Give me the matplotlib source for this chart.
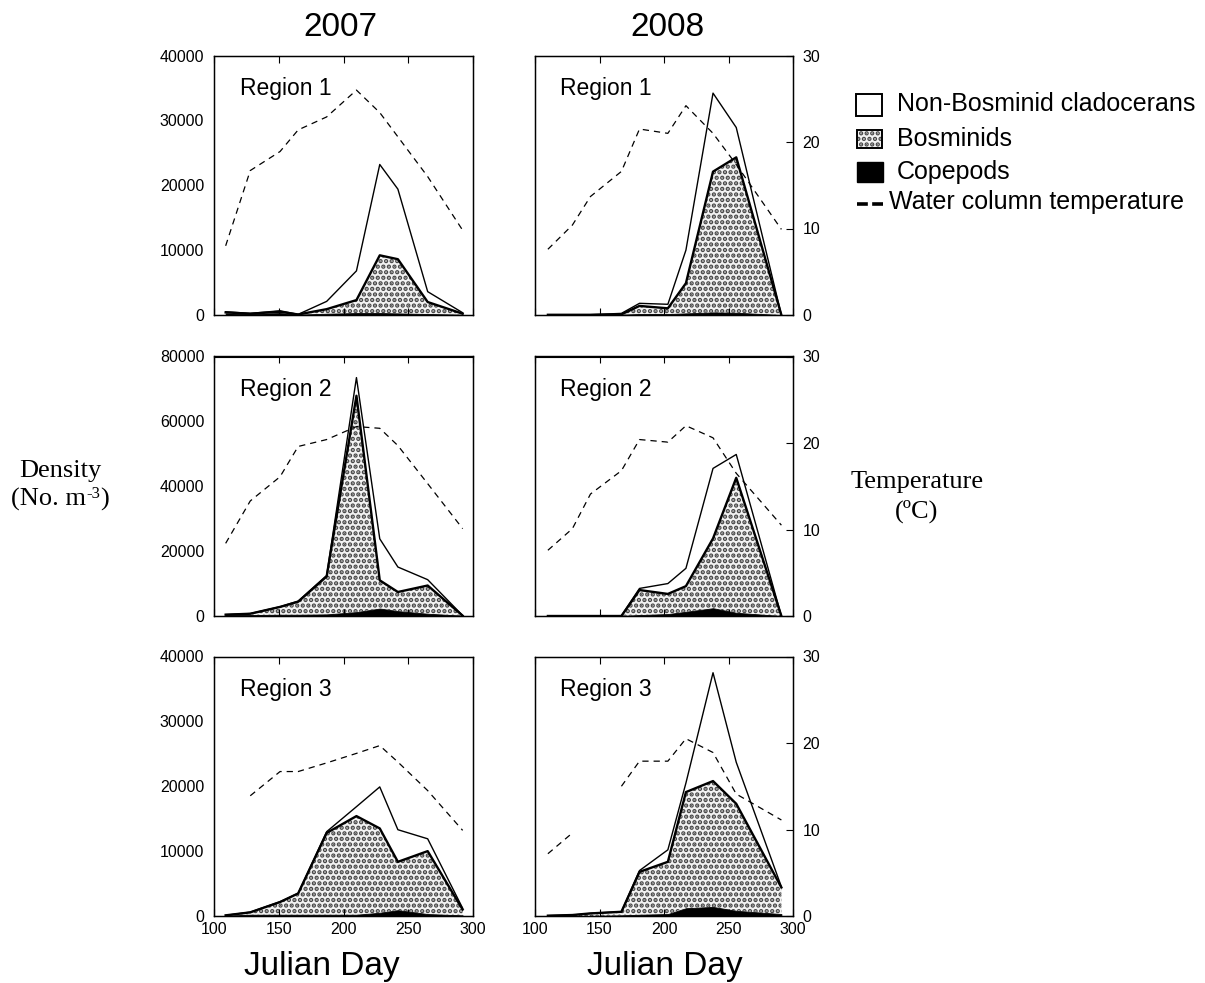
import numpy as np
import matplotlib
matplotlib.use("Agg")
import matplotlib.pyplot as plt
from matplotlib.patches import Rectangle
from matplotlib.lines import Line2D

plt.rcParams['font.family'] = ['Liberation Sans', 'DejaVu Sans']
plt.rcParams['hatch.linewidth'] = 2.2

# ---------------- data ----------------
years = ["2007", "2008"]
regions = ["Region 1", "Region 2", "Region 3"]
days_2007 = [109, 128, 151, 165, 187, 210, 228, 242, 265, 292]
days_2008 = [110, 129, 143, 167, 181, 203, 217, 238, 256, 291]

# 2007
cope_2007_r1 = [250, 150, 300, 50, 200, 300, 300, 250, 150, 50]
bosm_2007_r1 = [150, 50, 200, 30, 700, 2000, 8900, 8350, 1850, 150]
nonb_2007_r1 = [100, 50, 150, 20, 1200, 4500, 14000, 10800, 1600, 150]
temp_2007_r1 = [8.0, 16.7, 18.9, 21.4, 22.9, 26.0, 23.4, 20.6, 16.0, 9.8]

cope_2007_r2 = [300, 300, 400, 400, 500, 1200, 2300, 1500, 700, 100]
bosm_2007_r2 = [100, 400, 2400, 4000, 11700, 66700, 8700, 5900, 8700, 0]
nonb_2007_r2 = [50, 50, 50, 200, 300, 5600, 12800, 7700, 1800, 50]
temp_2007_r2 = [8.4, 13.3, 16.1, 19.6, 20.4, 21.9, 21.7, 19.7, 15.3, 10.1]

cope_2007_r3 = [50, 200, 200, 200, 200, 200, 500, 900, 300, 100]
bosm_2007_r3 = [50, 360, 1950, 3280, 12600, 15200, 13000, 7450, 9700, 900]
nonb_2007_r3 = [0, 40, 50, 20, 200, 1450, 6400, 4950, 1900, 200]
temp_2007_r3 = [np.nan, 13.9, 16.7, 16.7, 17.7, 18.8, 19.7, 17.8, 14.5, 9.9]

# 2008
cope_2008_r1 = [20, 20, 20, 50, 150, 150, 250, 400, 350, 0]
bosm_2008_r1 = [10, 10, 10, 50, 1250, 880, 4650, 21700, 23950, 0]
nonb_2008_r1 = [20, 20, 20, 150, 400, 620, 5100, 12100, 4600, 0]
temp_2008_r1 = [7.6, 10.4, 13.7, 16.6, 21.5, 21.0, 24.2, 21.0, 17.4, 9.9]

cope_2008_r2 = [0, 0, 0, 0, 300, 600, 1300, 2400, 1000, 0]
bosm_2008_r2 = [0, 0, 0, 0, 7700, 6200, 7900, 21500, 41600, 0]
nonb_2008_r2 = [50, 50, 50, 100, 500, 3200, 5500, 21600, 7200, 0]
temp_2008_r2 = [7.6, 10.1, 14.1, 16.8, 20.4, 20.1, 22.0, 20.6, 16.5, 10.5]

cope_2008_r3 = [0, 0, 0, 100, 200, 300, 1200, 1400, 800, 300]
bosm_2008_r3 = [50, 150, 400, 550, 6600, 8050, 17900, 19400, 16500, 4100]
nonb_2008_r3 = [0, 0, 0, 20, 200, 1850, 1400, 16700, 6400, 100]
temp_2008_r3 = [7.2, 9.6, np.nan, 15.0, 17.9, 17.9, 20.5, 18.9, 14.1, 11.1]

density_max = [40000, 80000, 40000]
density_ticks = [[0, 10000, 20000, 30000, 40000],
                 [0, 20000, 40000, 60000, 80000],
                 [0, 10000, 20000, 30000, 40000]]
temp_ticks = [0, 10, 20, 30]
x_ticks = [100, 150, 200, 250, 300]

legend_labels = ["Non-Bosminid cladocerans", "Bosminids", "Copepods",
                 "Water column temperature"]

panels = {
    (0, 0): (days_2007, cope_2007_r1, bosm_2007_r1, nonb_2007_r1, temp_2007_r1),
    (1, 0): (days_2007, cope_2007_r2, bosm_2007_r2, nonb_2007_r2, temp_2007_r2),
    (2, 0): (days_2007, cope_2007_r3, bosm_2007_r3, nonb_2007_r3, temp_2007_r3),
    (0, 1): (days_2008, cope_2008_r1, bosm_2008_r1, nonb_2008_r1, temp_2008_r1),
    (1, 1): (days_2008, cope_2008_r2, bosm_2008_r2, nonb_2008_r2, temp_2008_r2),
    (2, 1): (days_2008, cope_2008_r3, bosm_2008_r3, nonb_2008_r3, temp_2008_r3),
}

# ---------------- figure ----------------
W, H = 1205, 983
fig = plt.figure(figsize=(W / 100, H / 100), dpi=100)

col_x = [214 / W, 535 / W]
col_w = [259 / W, 258 / W]
row_bottom = [1 - 315 / H, 1 - 616 / H, 1 - 916 / H]
row_h = 259.5 / H

TICK_FS = 11.5
HATCH_FACE = '#f2f2f2'
HATCH_EDGE = '#454545'
HATCH = '...'

for (r, c), (days, cope, bosm, nonb, temp) in panels.items():
    ax = fig.add_axes([col_x[c], row_bottom[r], col_w[c], row_h])
    d = np.array(days, float)
    c1 = np.array(cope, float)
    c2 = c1 + np.array(bosm, float)
    c3 = c2 + np.array(nonb, float)

    ax.fill_between(d, c2, c3, facecolor='white', linewidth=0)
    ax.fill_between(d, c1, c2, facecolor=HATCH_FACE, edgecolor=HATCH_EDGE,
                    hatch=HATCH, linewidth=0)
    ax.fill_between(d, 0, c1, facecolor='black', edgecolor='black', linewidth=0.6)
    ax.plot(d, c3, color='black', lw=1.0)
    ax.plot(d, c2, color='black', lw=1.7)

    ax.set_xlim(100, 300)
    ax.set_ylim(0, density_max[r])
    ax.set_xticks(x_ticks)
    ax.set_yticks(density_ticks[r])
    ax.tick_params(axis='x', direction='in', top=True, bottom=True, length=5,
                   labelsize=TICK_FS, pad=4, width=0.8)
    ax.tick_params(axis='y', length=0, labelsize=TICK_FS, pad=7)
    if r < 2:
        ax.set_xticklabels([])
    if c == 1:
        ax.set_yticklabels([])
    for s in ax.spines.values():
        s.set_linewidth(1.0)

    ax2 = ax.twinx()
    ax2.plot(d, temp, color='black', lw=0.9, linestyle=(0, (5, 4)))
    ax2.set_ylim(0, 30)
    ax2.set_xlim(100, 300)
    if c == 1:
        ax2.set_yticks(temp_ticks)
        ax2.tick_params(axis='y', direction='in', length=5, labelsize=TICK_FS,
                        pad=7, width=0.8)
    else:
        ax2.set_yticks([])

    ax.text(0.10 if c == 0 else 0.097, 0.873, regions[r], transform=ax.transAxes,
            fontsize=16.5, va='center', ha='left')

# titles
fig.text(340 / W, 1 - 28 / H, years[0], fontsize=24, ha='center', va='center')
fig.text(667 / W, 1 - 28 / H, years[1], fontsize=24, ha='center', va='center')
fig.text(322 / W, 1 - 966 / H, "Julian Day", fontsize=24, ha='center', va='center')
fig.text(665 / W, 1 - 966 / H, "Julian Day", fontsize=24, ha='center', va='center')

serif = ['Liberation Serif', 'DejaVu Serif']
fig.text(60 / W, 1 - 471 / H, "Density", fontsize=19, ha='center', va='center',
         family=serif)

# "(No. m^-3)" built from pieces so the superscript uses a plain hyphen
renderer = fig.canvas.get_renderer()
pieces = [("(No. m", 19, 0), ("-3", 12, 8), (")", 19, 0)]
texts = []
for s, fs, dy in pieces:
    t = fig.text(0, 0, s, fontsize=fs, family=serif, ha='left', va='baseline')
    texts.append((t, dy))
widths = [t.get_window_extent(renderer).width for t, _ in texts]
total_w = sum(widths)
x0 = 60 - total_w / 2
base_y = 506
for (t, dy), w in zip(texts, widths):
    t.set_position((x0 / W, 1 - (base_y - dy) / H))
    x0 += w

fig.text(917 / W, 1 - 482 / H, "Temperature", fontsize=19, ha='center',
         va='center', family=serif)
fig.text(917 / W, 1 - 511 / H, "(ºC)", fontsize=19, ha='center', va='center',
         family=serif)

# legend (manual)
def fx(px):
    return px / W

def fy(py):
    return 1 - py / H

fig.add_artist(Rectangle((fx(856), fy(115.5)), 26 / W, 22 / H,
                         facecolor='white', edgecolor='black', lw=1.4,
                         transform=fig.transFigure))
fig.add_artist(Rectangle((fx(857), fy(148)), 25 / W, 18 / H,
                         facecolor=HATCH_FACE, edgecolor=HATCH_EDGE, hatch=HATCH,
                         lw=0, transform=fig.transFigure))
fig.add_artist(Rectangle((fx(857), fy(148)), 25 / W, 18 / H,
                         facecolor='none', edgecolor='black', lw=1.4,
                         transform=fig.transFigure))
fig.add_artist(Rectangle((fx(857), fy(181.5)), 26 / W, 20 / H,
                         facecolor='black', edgecolor='black', lw=1,
                         transform=fig.transFigure))
fig.add_artist(Line2D([fx(857), fx(883)], [fy(204), fy(204)], color='black',
                      lw=2.6, linestyle=(0, (3.0, 1.2)), dash_capstyle='butt',
                      transform=fig.transFigure))
leg_y = [104, 139, 172, 202]
for lab, yy in zip(legend_labels, leg_y):
    xx = 897 if yy < 200 else 889
    fig.text(fx(xx), fy(yy), lab, fontsize=18, ha='left', va='center')

fig.savefig("out.png", dpi=100)
